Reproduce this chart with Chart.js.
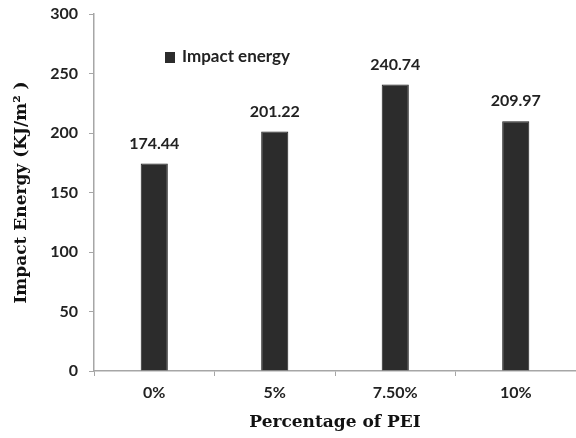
<!DOCTYPE html>
<html>
<head>
<meta charset="utf-8">
<script src="https://cdn.jsdelivr.net/npm/chart.js@4"></script>
<style>
  html, body { margin: 0; padding: 0; background: #fff; }
  #wrap { width: 576px; height: 438px; }
</style>
</head>
<body>
<div id="wrap"><canvas id="c" width="576" height="438"></canvas></div>
<script>
// Impact energy of the blends for each PEI loading
const categories = ['0%', '5%', '7.50%', '10%'];
const impactEnergy = [174.44, 201.22, 240.74, 209.97];
const seriesName = 'Impact energy';
const yTicks = [0, 50, 100, 150, 200, 250, 300];

const SANS = 'Lato, "Open Sans", sans-serif';
const SERIF = '"DejaVu Serif", serif';
const AXIS_GREY = '#a6a6a6';
const BAR_FILL = '#2c2c2c';

// Value labels above every bar
const valueLabels = {
  id: 'valueLabels',
  afterDatasetsDraw(chart) {
    const ctx = chart.ctx;
    const meta = chart.getDatasetMeta(0);
    ctx.save();
    ctx.font = 'bold 16px ' + SANS;
    ctx.fillStyle = '#222';
    ctx.textAlign = 'center';
    ctx.textBaseline = 'middle';
    meta.data.forEach((bar, i) => {
      const v = chart.data.datasets[0].data[i];
      ctx.fillText(v.toFixed(2), bar.x, bar.y - 20);
    });
    ctx.restore();
  }
};

// Small legend inside the plot area
const insideLegend = {
  id: 'insideLegend',
  afterDraw(chart) {
    const ctx = chart.ctx;
    const ds = chart.data.datasets[0];
    const area = chart.chartArea;
    const x = area.left + 71, y = area.top + 43;
    ctx.save();
    ctx.fillStyle = ds.backgroundColor;
    ctx.fillRect(x, y - 5, 10, 11);
    ctx.font = 'bold 17px ' + SANS;
    ctx.fillStyle = '#222';
    ctx.textAlign = 'left';
    ctx.textBaseline = 'middle';
    ctx.fillText(ds.label, x + 17, y);
    ctx.restore();
  }
};

new Chart(document.getElementById('c'), {
  type: 'bar',
  data: {
    labels: categories,
    datasets: [{
      label: seriesName,
      data: impactEnergy,
      backgroundColor: BAR_FILL,
      borderColor: '#1c1c1c',
      borderWidth: 1,
      barPercentage: 0.225,
      categoryPercentage: 1.0
    }]
  },
  options: {
    responsive: false,
    animation: false,
    devicePixelRatio: 1,
    layout: { padding: { top: 14, right: 0, bottom: 0, left: 0 } },
    plugins: {
      legend: { display: false },
      tooltip: { enabled: false }
    },
    scales: {
      x: {
        grid: {
          display: true,
          drawOnChartArea: false,
          drawTicks: true,
          tickLength: 5,
          color: AXIS_GREY,
          offset: true
        },
        border: { display: true, color: AXIS_GREY, width: 1.5 },
        ticks: {
          color: '#222',
          font: { family: SANS, size: 16, weight: 'bold' },
          padding: 7
        },
        title: {
          display: true,
          text: 'Percentage of PEI',
          color: '#111',
          font: { family: SERIF, size: 17, weight: 'bold' },
          padding: { top: 4, bottom: 5 }
        },
        afterFit(s) { s.height = 67; s.paddingLeft = 0; s.paddingRight = 0; }
      },
      y: {
        min: 0,
        max: 300,
        afterBuildTicks(s) { s.ticks = yTicks.map(v => ({ value: v })); },
        grid: {
          display: true,
          drawOnChartArea: false,
          drawTicks: true,
          tickLength: 5,
          color: AXIS_GREY
        },
        border: { display: true, color: AXIS_GREY, width: 1.5 },
        ticks: {
          color: '#222',
          font: { family: SANS, size: 16, weight: 'bold' },
          padding: 11
        },
        title: {
          display: true,
          text: 'Impact Energy (KJ/m\u00B2 )',
          color: '#111',
          font: { family: SERIF, size: 17, weight: 'bold' },
          padding: { top: 11, bottom: 4 }
        },
        afterFit(s) { s.width = 94; s.paddingTop = 0; s.paddingBottom = 0; }
      }
    }
  },
  plugins: [valueLabels, insideLegend]
});
</script>
</body>
</html>
